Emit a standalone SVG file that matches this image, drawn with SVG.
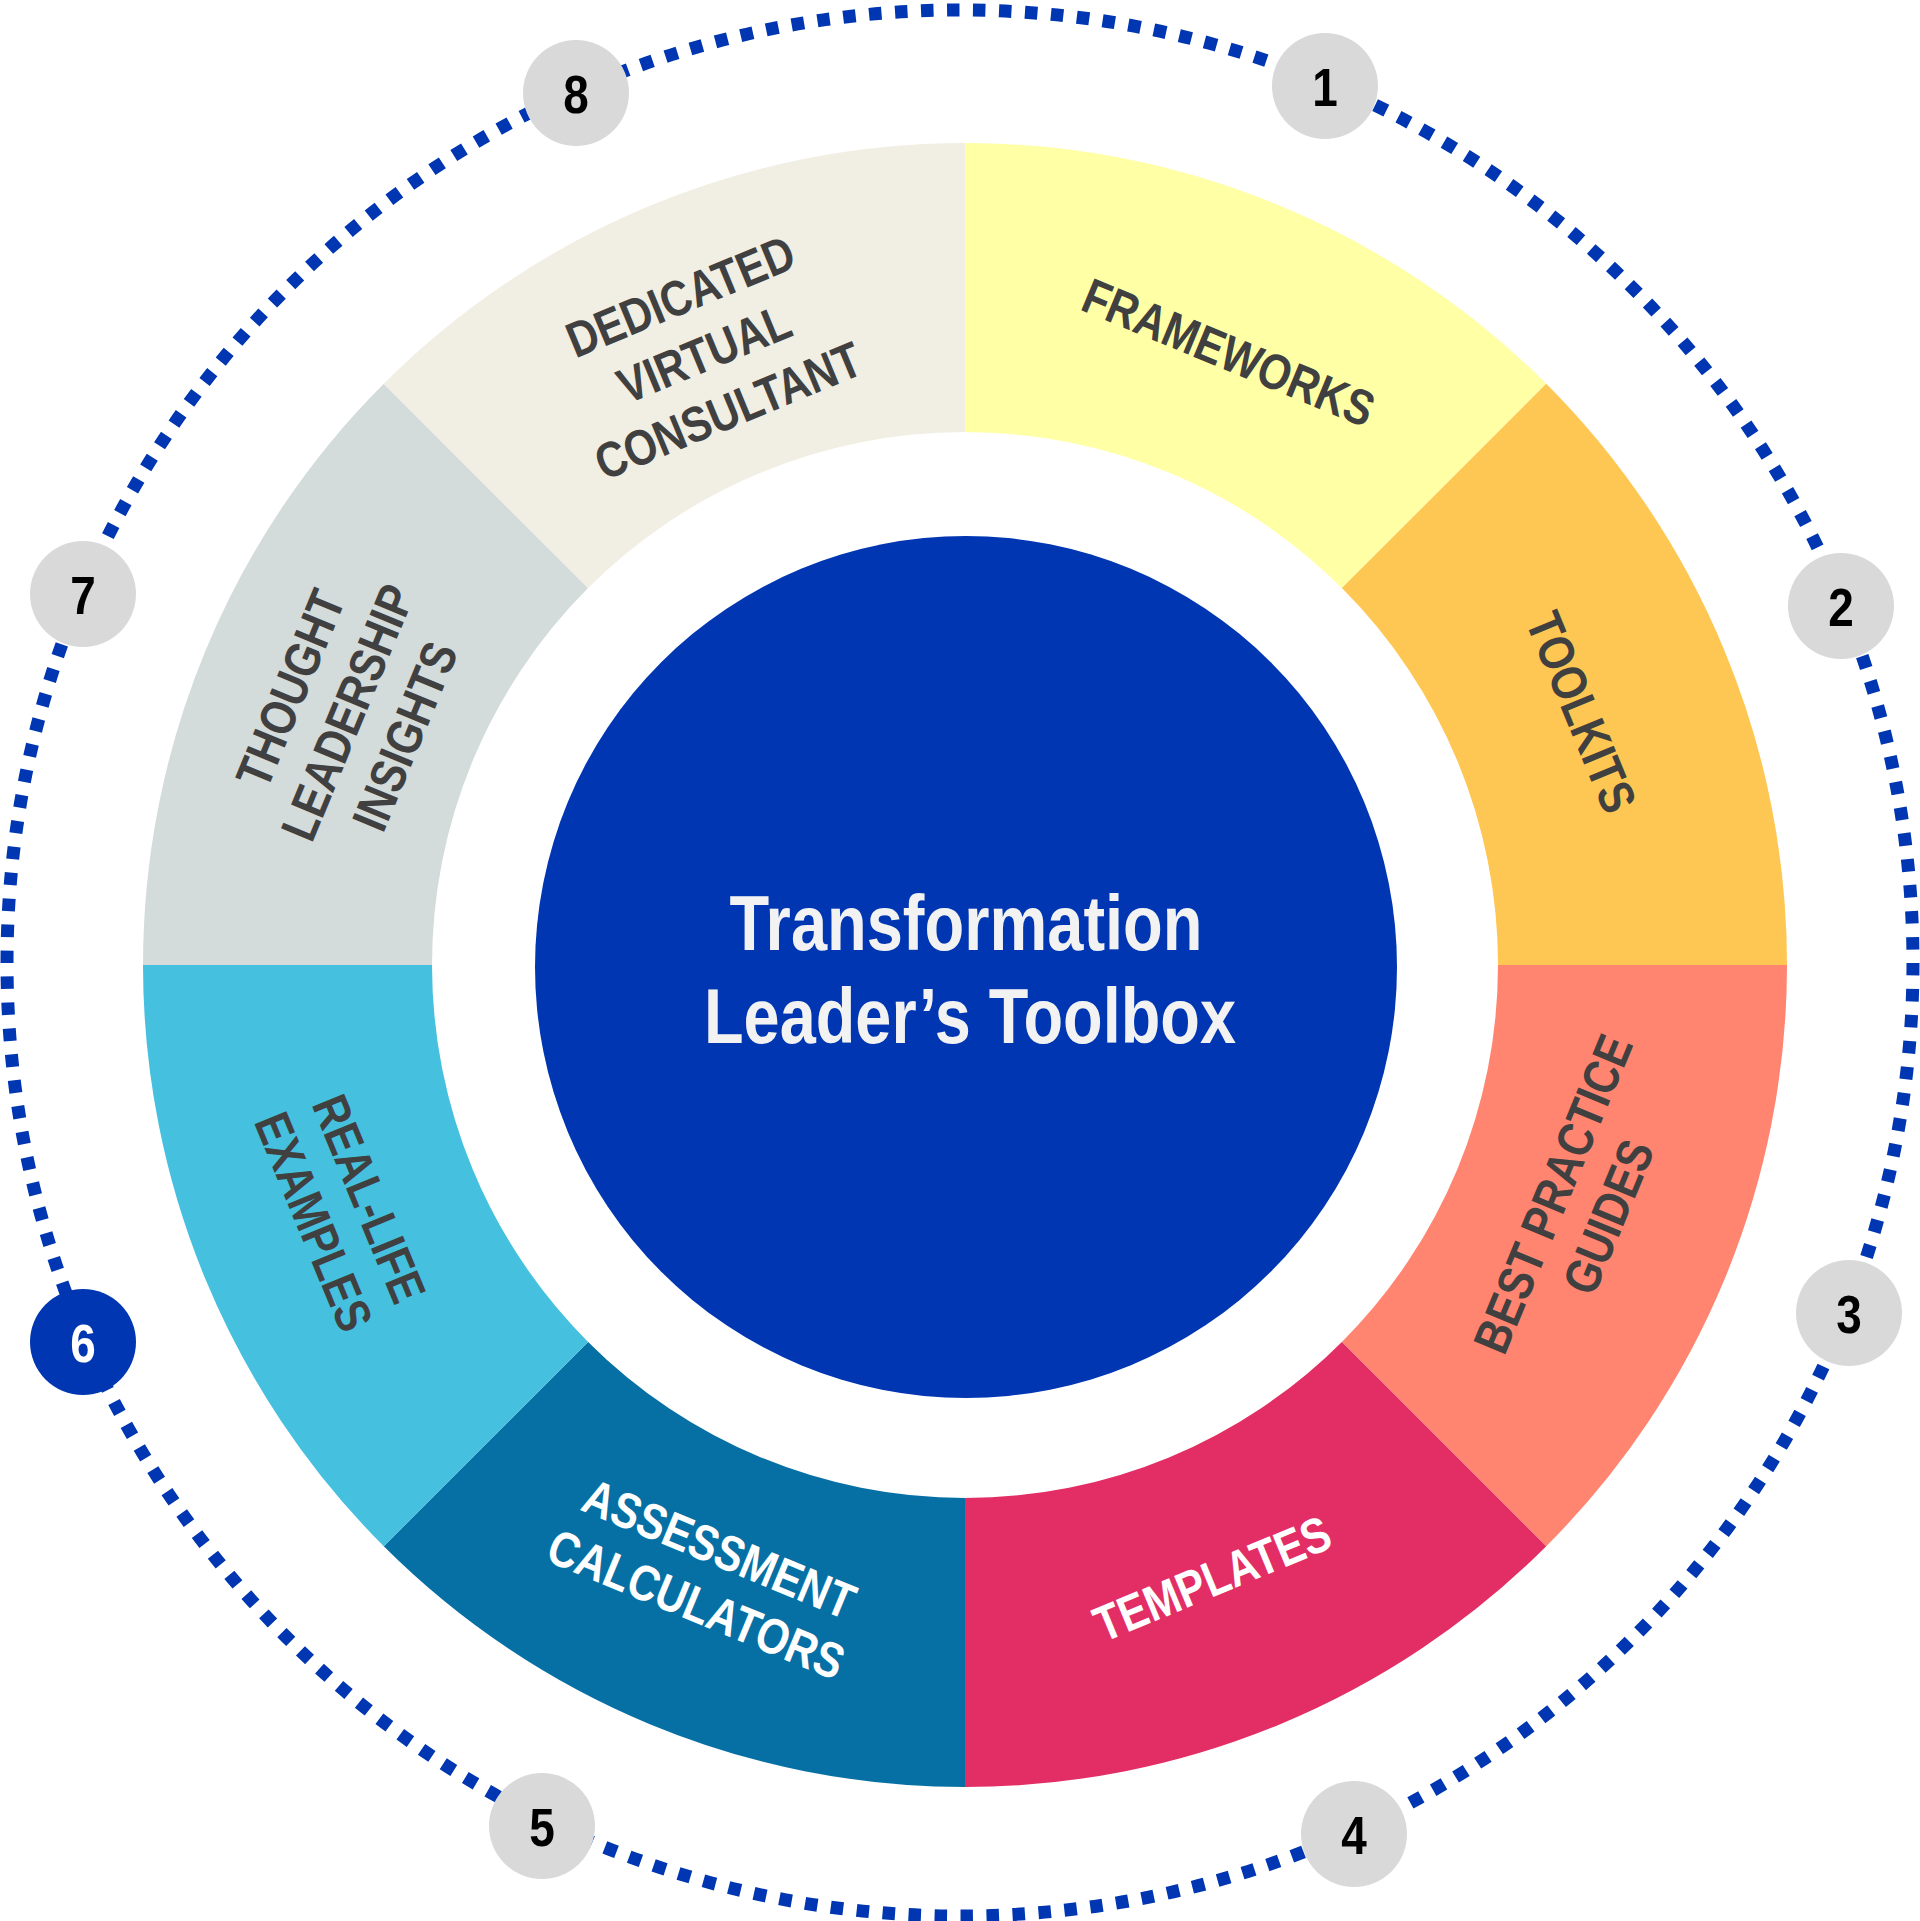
<svg xmlns="http://www.w3.org/2000/svg" width="1920" height="1921" viewBox="0 0 1920 1921">
<style>
.lbl{font-family:"Liberation Sans",Arial,sans-serif;font-weight:bold;font-size:50px;text-anchor:middle;fill:#404040}
.wht{fill:#FFFFFF}
.ctr{font-family:"Liberation Sans",Arial,sans-serif;font-weight:bold;font-size:78px;text-anchor:middle;fill:#F2F2F2}
.bdg{fill:#D9D9D9}
.num{font-family:"Liberation Sans",Arial,sans-serif;font-weight:bold;font-size:54px;text-anchor:middle;fill:#000000}
</style>
<rect width="1920" height="1921" fill="#FFFFFF"/>
<g id="connectors">
  <circle cx="960" cy="963" r="953" fill="none" stroke="#0036B2" stroke-width="13" pathLength="230" stroke-dasharray="0.48 0.52"/>
</g>
<g id="seg-frameworks">
  <path d="M965 143 A822 822 0 0 1 1546.24 383.76 L1341.89 588.11 A533 533 0 0 0 965 432 Z" fill="#FFFFA5"/>
  <g transform="translate(1229,352) rotate(22.5)"><text class="lbl" transform="translate(0,18) scale(0.84,1)">FRAMEWORKS</text></g>
</g>
<g id="seg-toolkits">
  <path d="M1546.24 383.76 A822 822 0 0 1 1787 965 L1498 965 A533 533 0 0 0 1341.89 588.11 Z" fill="#FEC753"/>
  <g transform="translate(1582,712) rotate(67.5)"><text class="lbl" transform="translate(0,18) scale(0.84,1)">TOOLKITS</text></g>
</g>
<g id="seg-best-practice">
  <path d="M1787 965 A822 822 0 0 1 1546.24 1546.24 L1341.89 1341.89 A533 533 0 0 0 1498 965 Z" fill="#FF8571"/>
  <g transform="translate(1580,1205) rotate(-67.5)">
    <text class="lbl" transform="translate(0,-12) scale(0.84,1)">BEST PRACTICE</text>
    <text class="lbl" transform="translate(0,48) scale(0.84,1)">GUIDES</text>
  </g>
</g>
<g id="seg-templates">
  <path d="M1546.24 1546.24 A822 822 0 0 1 965 1787 L965 1498 A533 533 0 0 0 1341.89 1341.89 Z" fill="#E32D65"/>
  <g transform="translate(1212,1578) rotate(-22.5)"><text class="lbl wht" transform="translate(0,18) scale(0.84,1)">TEMPLATES</text></g>
</g>
<g id="seg-assessment">
  <path d="M965 1787 A822 822 0 0 1 383.76 1546.24 L588.11 1341.89 A533 533 0 0 0 965 1498 Z" fill="#0670A5"/>
  <g transform="translate(708,1576) rotate(22.5)">
    <text class="lbl wht" transform="translate(0,-12) scale(0.84,1)">ASSESSMENT</text>
    <text class="lbl wht" transform="translate(0,48) scale(0.84,1)">CALCULATORS</text>
  </g>
</g>
<g id="seg-real-life">
  <path d="M383.76 1546.24 A822 822 0 0 1 143 965 L432 965 A533 533 0 0 0 588.11 1341.89 Z" fill="#46C0DF"/>
  <g transform="translate(342,1210) rotate(67.5)">
    <text class="lbl" transform="translate(0,-12) scale(0.84,1)">REAL-LIFE</text>
    <text class="lbl" transform="translate(0,48) scale(0.84,1)">EXAMPLES</text>
  </g>
</g>
<g id="seg-thought">
  <path d="M143 965 A822 822 0 0 1 383.76 383.76 L588.11 588.11 A533 533 0 0 0 432 965 Z" fill="#D4DBDB"/>
  <g transform="translate(347,712) rotate(-67.5)">
    <text class="lbl" transform="translate(0,-44) scale(0.84,1)">THOUGHT</text>
    <text class="lbl" transform="translate(0,18) scale(0.84,1)">LEADERSHIP</text>
    <text class="lbl" transform="translate(0,80) scale(0.84,1)">INSIGHTS</text>
  </g>
</g>
<g id="seg-dedicated">
  <path d="M383.76 383.76 A822 822 0 0 1 965 143 L965 432 A533 533 0 0 0 588.11 588.11 Z" fill="#F1EEE3"/>
  <g transform="translate(704,353) rotate(-22.5)">
    <text class="lbl" transform="translate(0,-44) scale(0.84,1)">DEDICATED</text>
    <text class="lbl" transform="translate(0,18) scale(0.84,1)">VIRTUAL</text>
    <text class="lbl" transform="translate(0,80) scale(0.84,1)">CONSULTANT</text>
  </g>
</g>
<g id="center">
  <circle cx="966" cy="967" r="431" fill="#0036B2"/>
  <text class="ctr" x="966" y="950" textLength="473" lengthAdjust="spacingAndGlyphs">Transformation</text>
  <text class="ctr" x="970" y="1043" textLength="532" lengthAdjust="spacingAndGlyphs">Leader’s Toolbox</text>
</g>
<g id="badge-1"><circle class="bdg" cx="1325" cy="86" r="53"/><text class="num" transform="translate(1325,106) scale(0.85,1)">1</text></g>
<g id="badge-2"><circle class="bdg" cx="1841" cy="606" r="53"/><text class="num" transform="translate(1841,626) scale(0.85,1)">2</text></g>
<g id="badge-3"><circle class="bdg" cx="1849" cy="1313" r="53"/><text class="num" transform="translate(1849,1333) scale(0.85,1)">3</text></g>
<g id="badge-4"><circle class="bdg" cx="1354" cy="1834" r="53"/><text class="num" transform="translate(1354,1854) scale(0.85,1)">4</text></g>
<g id="badge-5"><circle class="bdg" cx="542" cy="1826" r="53"/><text class="num" transform="translate(542,1846) scale(0.85,1)">5</text></g>
<g id="badge-6"><circle cx="83" cy="1342" r="53" fill="#0036B2"/><text class="num" style="fill:#FFFFFF" transform="translate(83,1362) scale(0.85,1)">6</text></g>
<g id="badge-7"><circle class="bdg" cx="83" cy="594" r="53"/><text class="num" transform="translate(83,614) scale(0.85,1)">7</text></g>
<g id="badge-8"><circle class="bdg" cx="576" cy="93" r="53"/><text class="num" transform="translate(576,113) scale(0.85,1)">8</text></g>
</svg>
